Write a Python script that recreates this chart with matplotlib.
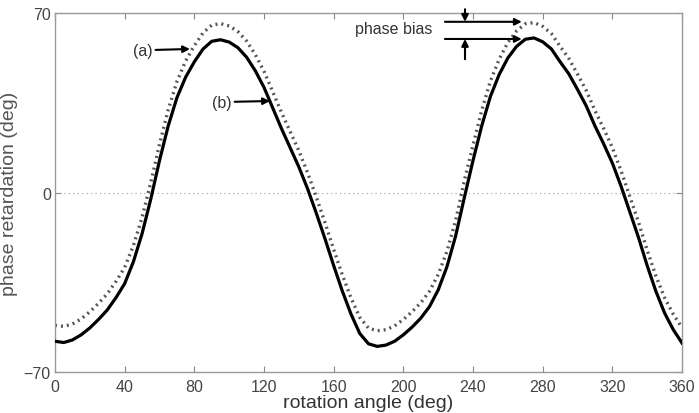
import matplotlib.pyplot as plt

angle = list(range(0, 365, 5))

# (b) measured curve, solid
solid = [-58, -58.5, -57.5, -55.5, -52.8, -49.5, -45.8, -41, -35.5, -27,
         -16, -2.5, 12.5, 26, 37, 45, 51, 56, 59, 59.6,
         58.7, 56.5, 52.8, 47.5, 41, 33, 25, 17.5, 10, 1.5,
         -8, -18, -28.5, -38.5, -47.5, -55, -59, -60, -59.5, -58,
         -55.5, -52.5, -49, -44.5, -38, -29, -17, -2, 12.5, 26,
         37.5, 46, 52.5, 57, 59.8, 60.3, 58.8, 56, 51, 46.3,
         40.2, 33.8, 26, 19, 11.5, 2.5, -7.5, -17.5, -28.5, -38.5,
         -47, -53.5, -58.7]

# (a) curve with phase bias, dotted
dotted = [-51.8, -52.2, -51.3, -49.3, -46.5, -43.2, -39.5, -34.7, -29.2, -20.7,
          -9.7, 4, 18.8, 32.3, 43.3, 51.3, 57.3, 62.3, 65.3, 65.9,
          65, 62.8, 59.1, 53.8, 47.3, 39.3, 31.3, 23.8, 16.3, 7.8,
          -1.7, -11.7, -22.2, -32.2, -41.2, -48.7, -52.9, -53.9, -53.5, -52,
          -49.5, -46.5, -43, -38.5, -32, -23, -11, 4.5, 18.5, 32,
          43.5, 52, 58.5, 63, 65.8, 66.3, 64.8, 62, 57, 52.3,
          46.2, 39.8, 32, 25, 17.5, 8.5, -1.5, -11.5, -22.5, -32.5,
          -41, -47.5, -52.7]

xticks = list(range(0, 361, 40))
yticks = [-70, 0, 70]

plt.rcParams['font.family'] = ['Liberation Sans', 'DejaVu Sans']

fig = plt.figure(figsize=(6.99, 4.14), dpi=100)
ax = fig.add_axes([0.0787, 0.099, 0.897, 0.867])

ax.axhline(0, color='#999999', linestyle=(0, (1, 3)), linewidth=0.8, zorder=1)
ax.plot(angle, dotted, color='#555555', linestyle=(0, (0.6, 1.2)), linewidth=2.4, zorder=2)
ax.plot(angle, solid, color='black', linewidth=2.3, zorder=3)

ax.set_xlim(0, 360)
ax.set_ylim(-70, 70)
ax.set_xticks(xticks)
ax.set_yticks(yticks)
ax.set_yticklabels(['\u221270', '0', '70'])
ax.tick_params(direction='in', top=True, right=True, length=4, color='#888888',
               labelsize=11.5, labelcolor='#444444')
ax.tick_params(axis='x', pad=5)
ax.tick_params(axis='y', pad=3)
for s in ax.spines.values():
    s.set_color('#999999')
    s.set_linewidth(1)

ax.set_xlabel('rotation angle (deg)', fontsize=14, color='#333333', labelpad=0)
ax.set_ylabel('phase retardation (deg)', fontsize=14, color='#555555', labelpad=4)

arrow = dict(arrowstyle='-|>', color='black', lw=1.5, mutation_scale=10, shrinkA=0, shrinkB=0)
ax.annotate('(a)', xy=(77.5, 56), xytext=(50.5, 55.5), ha='center', va='center',
            fontsize=11.5, color='#333333', arrowprops=arrow)
ax.annotate('(b)', xy=(123.4, 35.7), xytext=(95.9, 35.3), ha='center', va='center',
            fontsize=11.5, color='#333333', arrowprops=arrow)
ax.text(194.6, 63.8, 'phase bias', ha='center', va='center', fontsize=11.5, color='#333333')
ax.annotate('', xy=(268, 66.6), xytext=(223.9, 66.6), arrowprops=arrow)
ax.annotate('', xy=(268, 59.9), xytext=(223.9, 59.9), arrowprops=arrow)
ax.annotate('', xy=(235.4, 66.6), xytext=(235.4, 71.5), arrowprops=arrow, annotation_clip=False)
ax.annotate('', xy=(235.4, 59.9), xytext=(235.4, 52), arrowprops=arrow)

fig.savefig('out.png', dpi=100)
